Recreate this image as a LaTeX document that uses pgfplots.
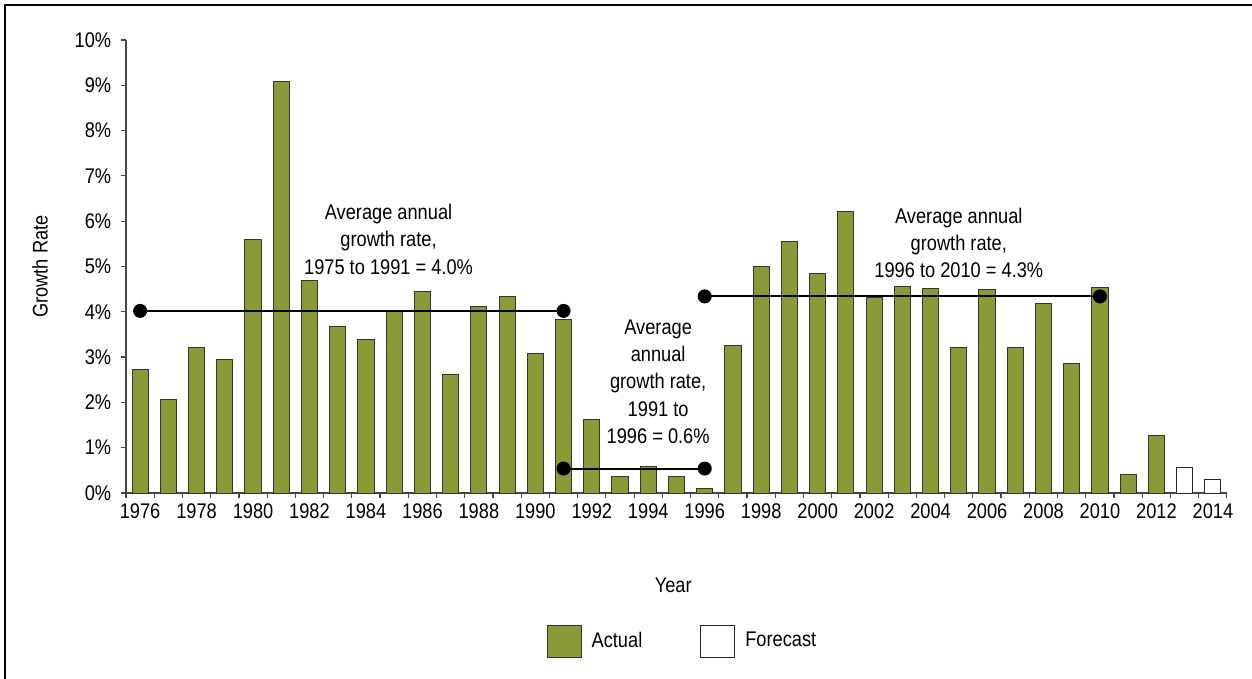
\documentclass[border=0pt]{standalone}
\usepackage{fontspec}
\setmainfont{Liberation Sans}[FakeStretch=0.86]
\usepackage{pgfplots}
\pgfplotsset{compat=1.18}
\definecolor{barGreen}{RGB}{137,154,54}
\definecolor{axisGray}{RGB}{70,70,70}
\begin{document}
\begin{tikzpicture}[font=\fontsize{10.6}{13.65}\selectfont]
\path[use as bounding box] (-63pt,-93pt) rectangle (563pt,246.5pt);
\draw[line width=1.1pt] (-60.5pt,-93pt) -- (-60.5pt,244pt);
\draw[line width=0.6pt] (-61pt,244pt) -- (563pt,244pt);
\begin{axis}[
  scale only axis,
  width=550.5pt, height=226.5pt,
  xmin=1975.5, xmax=2014.5, ymin=0, ymax=10,
  axis x line*=bottom, axis y line*=left,
  axis line style={axisGray, line width=0.6pt},
  tick align=outside,
  major tick length=2.5pt,
  tick style={axisGray, line width=0.6pt},
  xtick={1975.5,1976.5,...,2014.5},
  xticklabels={},
  extra x ticks={1976,1978,1980,1982,1984,1986,1988,1990,1992,1994,1996,1998,2000,2002,2004,2006,2008,2010,2012,2014},
  extra x tick labels={1976,1978,1980,1982,1984,1986,1988,1990,1992,1994,1996,1998,2000,2002,2004,2006,2008,2010,2012,2014},
  extra x tick style={major tick length=0pt, xticklabel style={yshift=-2pt}},
  ytick={0,1,...,10},
  yticklabel={\pgfmathprintnumber{\tick}\%},
  yticklabel style={xshift=-1.4pt},
  /pgf/number format/assume math mode=true,
  ylabel={Growth Rate},
  ylabel style={at={(axis description cs:-0.0781,0.5)}, anchor=center},
  xlabel={Year},
  xlabel style={at={(axis description cs:0.497,-0.203)}, anchor=center},
  legend columns=-1,
  legend style={at={(axis description cs:0.5063,-0.327)}, anchor=center, draw=none, fill=none,
    /tikz/every odd column/.append style={column sep=3pt},
    /tikz/every even column/.append style={column sep=27pt}},
  clip=false,
]
\addplot[ybar, bar shift=0pt, bar width=0.57, fill=barGreen, draw=black!80, line width=0.5pt,
  legend image code/.code={\draw[fill=barGreen, draw=black!80, line width=0.5pt] (0pt,-8pt) rectangle (17pt,8pt);}]
coordinates {
(1976,2.73) (1977,2.07) (1978,3.21) (1979,2.95) (1980,5.60) (1981,9.09) (1982,4.68)
(1983,3.67) (1984,3.39) (1985,4.02) (1986,4.45) (1987,2.62) (1988,4.11) (1989,4.33)
(1990,3.09) (1991,3.82) (1992,1.63) (1993,0.37) (1994,0.59) (1995,0.36) (1996,0.10)
(1997,3.26) (1998,4.99) (1999,5.56) (2000,4.85) (2001,6.21) (2002,4.32) (2003,4.55)
(2004,4.51) (2005,3.22) (2006,4.49) (2007,3.21) (2008,4.18) (2009,2.86) (2010,4.53)
(2011,0.41) (2012,1.27)
};
\addplot[ybar, bar shift=0pt, bar width=0.57, fill=white, draw=black!85, line width=0.5pt,
  legend image code/.code={\draw[fill=white, draw=black!85, line width=0.5pt] (0pt,-8pt) rectangle (17pt,8pt);}]
coordinates {(2013,0.57) (2014,0.30)};
\legend{Actual,Forecast}
\addplot[forget plot, black, line width=1pt, mark=*, mark size=3pt, mark options={fill=black}]
coordinates {(1976,4.02) (1991,4.02)};
\addplot[forget plot, black, line width=1pt, mark=*, mark size=3pt, mark options={fill=black}]
coordinates {(1991,0.54) (1996,0.54)};
\addplot[forget plot, black, line width=1pt, mark=*, mark size=3pt, mark options={fill=black}]
coordinates {(1996,4.34) (2010,4.34)};
\node[align=center] at (axis cs:1984.8,5.60) {Average annual\\growth rate,\\1975 to 1991 = 4.0\%};
\node[align=center] at (axis cs:1994.35,2.455) {Average\\annual\\growth rate,\\1991 to\\1996 = 0.6\%};
\node[align=center] at (axis cs:2005.0,5.52) {Average annual\\growth rate,\\1996 to 2010 = 4.3\%};
\end{axis}
\end{tikzpicture}
\end{document}
